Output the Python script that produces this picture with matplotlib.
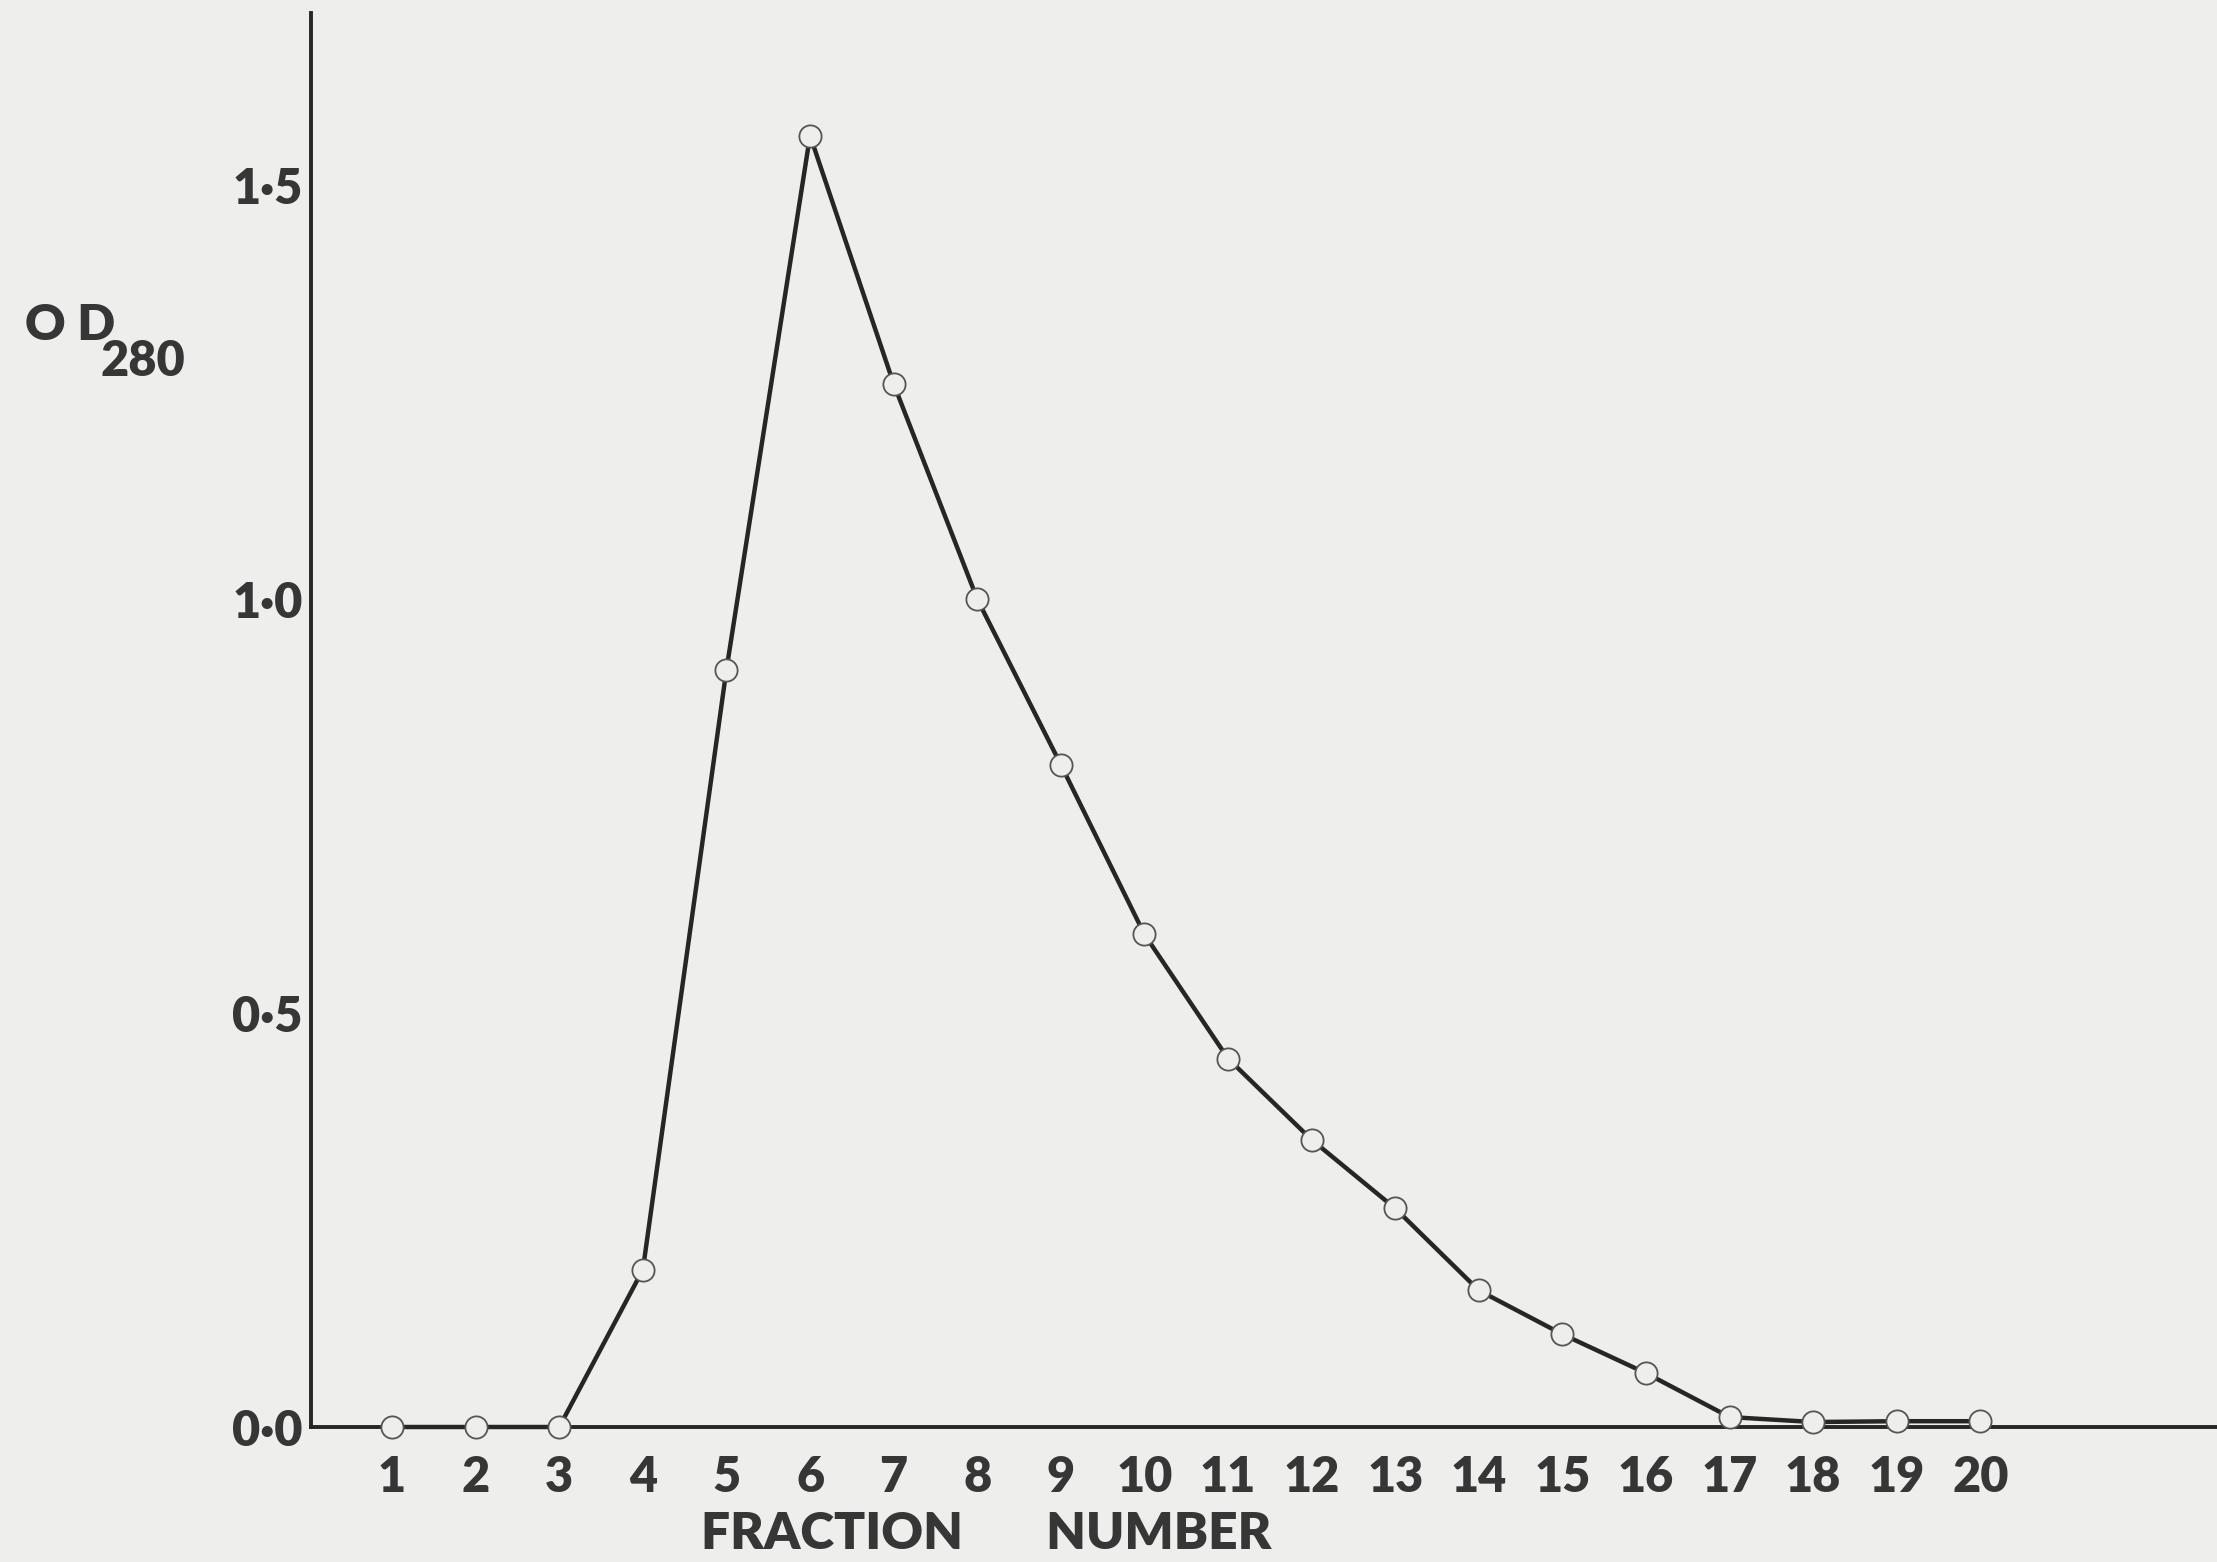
import matplotlib
matplotlib.use("Agg")
import matplotlib.pyplot as plt

plt.rcParams['font.family'] = ['Lato', 'DejaVu Sans']
plt.rcParams['font.weight'] = 'heavy'

# Data
fractions = list(range(1, 21))
od280 = [0.0, 0.0, 0.0, 0.19, 0.915, 1.56, 1.26, 1.0, 0.80, 0.595,
         0.445, 0.347, 0.264, 0.165, 0.112, 0.065, 0.012, 0.006, 0.007, 0.007]
yticks = [0.0, 0.5, 1.0, 1.5]
ytick_labels = ['0·0', '0·5', '1·0', '1·5']

bg = '#eeeeec'
ink = '#262626'
txt = '#363636'

W, H = 2217, 1562
fig = plt.figure(figsize=(W / 100, H / 100), dpi=100, facecolor=bg)
ax = fig.add_axes([311 / W, 1 - 1427 / H, 1 - 311 / W, (1427 - 13) / H])
ax.set_facecolor(bg)

ax.plot(fractions, od280, color=ink, lw=3.2, marker='o', markersize=16,
        markerfacecolor=bg, markeredgecolor='#555555', markeredgewidth=1.3,
        clip_on=False, zorder=3)

ax.set_xlim(0.03, 22.83)
ax.set_ylim(0, 1.708)

for s in ['top', 'right']:
    ax.spines[s].set_visible(False)
for s in ['left', 'bottom']:
    ax.spines[s].set_linewidth(2.8)
    ax.spines[s].set_color(ink)

ax.set_xticks(fractions)
ax.set_xticklabels([str(f) for f in fractions])
ax.set_yticks(yticks)
ax.set_yticklabels(ytick_labels)
ax.tick_params(axis='both', length=0, labelsize=35, colors=txt)
ax.tick_params(axis='x', pad=20)
ax.tick_params(axis='y', pad=6)
for lbl in ax.get_xticklabels() + ax.get_yticklabels():
    lbl.set_fontweight('heavy')

fig.text(986 / W, 1 - 1534 / H, 'FRACTION       NUMBER',
         ha='center', va='center', fontsize=37, color=txt, fontweight='heavy')
fig.text(25 / W, 1 - 326 / H, 'O D', ha='left', va='center',
         fontsize=36, color=txt, fontweight='heavy')
fig.text(100 / W, 1 - 362 / H, '280', ha='left', va='center',
         fontsize=35, color=txt, fontweight='heavy')

fig.savefig('out.png', dpi=100, facecolor=bg)
